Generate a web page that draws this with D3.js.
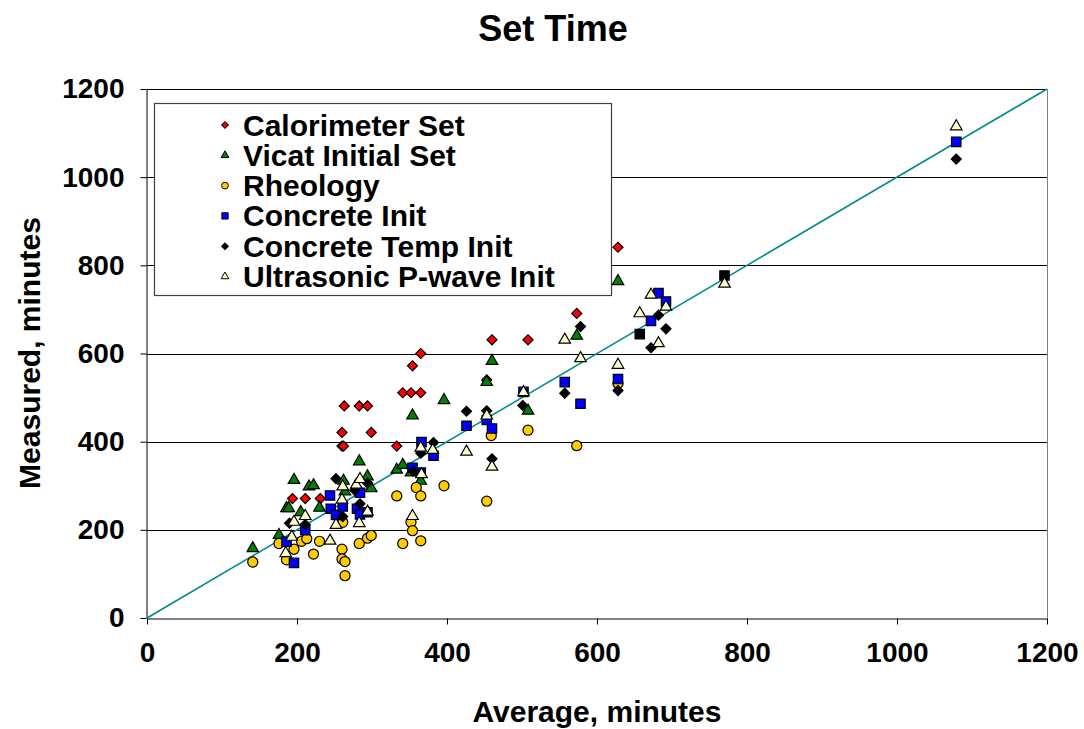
<!DOCTYPE html>
<html>
<head>
<meta charset="utf-8">
<script src="https://cdn.jsdelivr.net/npm/d3@7"></script>
<style>
  html, body { margin: 0; padding: 0; background: #fff; }
  svg { display: block; font-family: "Liberation Sans", Arial, sans-serif; }
</style>
</head>
<body>
<svg id="chart" width="1084" height="729"></svg>
<script>
// Set time: measured vs. average, minutes
const xTicks = [0, 200, 400, 600, 800, 1000, 1200];
const yTicks = [0, 200, 400, 600, 800, 1000, 1200];

const calorimeterSet = [
  [194, 271], [211, 271], [231, 271], [260, 390], [262, 390], [260, 421], [299, 421],
  [263, 481], [283, 481], [294, 481], [333, 390], [341, 511], [352, 511], [365, 511],
  [354, 572], [365, 600], [453, 540], [460, 631], [508, 631], [573, 691], [628, 841]
];
const vicatInitialSet = [
  [141, 158], [176, 188], [186, 249], [189, 249], [196, 313], [205, 240], [216, 298],
  [222, 301], [230, 250], [262, 311], [264, 287], [283, 355], [294, 321], [299, 294],
  [333, 336], [341, 347], [352, 330], [354, 459], [365, 311], [396, 494], [453, 535],
  [460, 583], [508, 470], [573, 640], [628, 764]
];
const rheology = [
  [141, 127], [176, 169], [186, 132], [196, 156], [206, 174], [213, 180], [222, 145],
  [230, 174], [260, 156], [261, 217], [260, 134], [264, 128], [264, 96], [283, 169],
  [294, 181], [299, 187], [333, 277], [341, 169], [352, 217], [354, 198], [359, 296],
  [365, 277], [365, 175], [396, 300], [453, 265], [459, 414], [508, 426], [573, 391],
  [628, 532]
];
const concreteInit = [
  [186, 173], [196, 125], [211, 199], [244, 278], [245, 248], [252, 234], [261, 253],
  [280, 248], [284, 235], [284, 284], [294, 240], [354, 341], [365, 330], [366, 399],
  [382, 368], [426, 436], [453, 449], [460, 430], [502, 513], [557, 535], [578, 486],
  [628, 542], [672, 674], [682, 737], [692, 718], [1079, 1080]
];
// Concrete Init points plotted with a dark fill
const concreteInitDark = [[657, 644], [770, 777]];
const concreteTempInit = [
  [190, 215], [211, 212], [252, 316], [261, 230], [277, 290], [284, 259], [294, 306],
  [355, 333], [365, 374], [382, 398], [426, 469], [453, 470], [460, 361], [501, 482],
  [557, 510], [578, 661], [628, 516], [672, 613], [682, 687], [692, 656], [1079, 1041]
];
const ultrasonicPWave = [
  [185, 147], [193, 184], [196, 218], [211, 231], [244, 175], [252, 211], [260, 268],
  [261, 298], [279, 302], [283, 215], [284, 315], [294, 241], [354, 231], [365, 386],
  [366, 326], [381, 381], [426, 377], [453, 459], [460, 343], [502, 512], [557, 631],
  [578, 589], [628, 574], [657, 691], [672, 733], [682, 623], [692, 706], [770, 758],
  [1079, 1115]
];
const equalityLine = [[0, 0], [1200, 1200]];

const seriesDefs = [
  { name: "Calorimeter Set", data: calorimeterSet, shape: "diamond", fill: "#FF0000", area: 50 },
  { name: "Vicat Initial Set", data: vicatInitialSet, shape: d3.symbolTriangle, fill: "#008000", area: 58 },
  { name: "Rheology", data: rheology, shape: d3.symbolCircle, fill: "#FFCC00", area: 80 },
  { name: "Concrete Init", data: concreteInit, shape: d3.symbolSquare, fill: "#0000FF", area: 88 },
  { name: "Concrete Temp Init", data: concreteTempInit, shape: "diamond", fill: "#000000", area: 50 },
  { name: "Ultrasonic P-wave Init", data: ultrasonicPWave, shape: d3.symbolTriangle, fill: "#FFFFCC", area: 58 }
];

const svg = d3.select("#chart");
const W = 1084, H = 729;
const margin = { left: 147, top: 89, right: W - 1047, bottom: H - 618 };

const x = d3.scaleLinear().domain([0, 1200]).range([margin.left, W - margin.right]);
const y = d3.scaleLinear().domain([0, 1200]).range([H - margin.bottom, margin.top]);

// diamonds are squares turned 45 degrees
function symPath(shape, area) {
  return d3.symbol().type(shape === "diamond" ? d3.symbolSquare : shape).size(area)();
}
function symRot(shape) { return shape === "diamond" ? " rotate(45)" : ""; }

// horizontal gridlines
svg.append("g").selectAll("line").data(yTicks.filter(d => d > 0)).join("line")
  .attr("x1", x(0)).attr("x2", x(1200))
  .attr("y1", d => Math.round(y(d)) + 0.5).attr("y2", d => Math.round(y(d)) + 0.5)
  .attr("stroke", "#000").attr("stroke-width", 1);

// right frame edge
svg.append("line")
  .attr("x1", x(1200) + 0.5).attr("x2", x(1200) + 0.5)
  .attr("y1", y(1200)).attr("y2", y(0))
  .attr("stroke", "#808080").attr("stroke-width", 1);

// axes
const fmt = d3.format("d");
const xAxis = svg.append("g")
  .attr("transform", `translate(0,${Math.round(y(0)) + 0.5})`)
  .call(d3.axisBottom(x).tickValues(xTicks).tickFormat(fmt).tickSize(6).tickSizeOuter(0).tickPadding(18));
const yAxis = svg.append("g")
  .attr("transform", `translate(${Math.round(x(0)) - 0.5},0)`)
  .call(d3.axisLeft(y).tickValues(yTicks).tickFormat(fmt).tickSize(6).tickSizeOuter(0).tickPadding(16));

[xAxis, yAxis].forEach(g => {
  g.attr("font-size", null).attr("font-family", null);
  g.select(".domain").attr("stroke", "#000").attr("stroke-width", 1);
  g.selectAll(".tick line").attr("stroke", "#000");
  g.selectAll(".tick text")
    .attr("fill", "#000")
    .style("font-size", "28px")
    .style("font-weight", "bold");
});

// 1:1 line
svg.append("path")
  .datum(equalityLine)
  .attr("d", d3.line().x(d => x(d[0])).y(d => y(d[1])))
  .attr("stroke", "#008B8B").attr("stroke-width", 1.6).attr("fill", "none");

// legend box (drawn before points so markers sit on top)
const legend = svg.append("g");
legend.append("rect")
  .attr("x", 154.5).attr("y", 103.5).attr("width", 457).attr("height", 192)
  .attr("fill", "#fff").attr("stroke", "#404040").attr("stroke-width", 1.2);

// scatter series
function drawSeries(def, data, fill) {
  svg.append("g").selectAll("path").data(data).join("path")
    .attr("transform", d => `translate(${x(d[0])},${y(d[1])})${symRot(def.shape)}`)
    .attr("d", symPath(def.shape, def.area))
    .attr("fill", fill || def.fill)
    .attr("stroke", "#000")
    .attr("stroke-width", 1.2);
}
seriesDefs.forEach(def => {
  drawSeries(def, def.data);
  if (def.name === "Concrete Init") drawSeries(def, concreteInitDark, "#000");
});

// legend entries
seriesDefs.forEach((def, i) => {
  const cy = 125 + i * 30.3;
  legend.append("path")
    .attr("transform", `translate(225,${cy})${symRot(def.shape)}`)
    .attr("d", symPath(def.shape, def.area * 0.45))
    .attr("fill", def.fill).attr("stroke", "#000").attr("stroke-width", 1);
  legend.append("text")
    .attr("x", 243).attr("y", cy + 10.5)
    .style("font-size", "30px").style("font-weight", "bold")
    .attr("fill", "#000")
    .text(def.name);
});

// titles
svg.append("text").attr("x", 553).attr("y", 41).attr("text-anchor", "middle")
  .style("font-size", "36px").style("font-weight", "bold").text("Set Time");
svg.append("text").attr("x", 597).attr("y", 722).attr("text-anchor", "middle")
  .style("font-size", "30px").style("font-weight", "bold").text("Average, minutes");
svg.append("text").attr("transform", "translate(40,353) rotate(-90)").attr("text-anchor", "middle")
  .style("font-size", "30px").style("font-weight", "bold").text("Measured, minutes");
</script>
</body>
</html>
